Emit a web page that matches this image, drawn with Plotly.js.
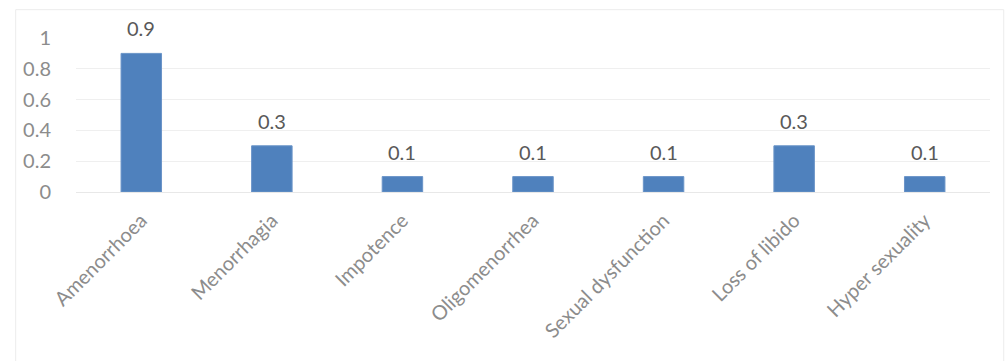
<!DOCTYPE html>
<html>
<head>
<meta charset="utf-8">
<script src="https://cdn.plot.ly/plotly-3.0.1.min.js"></script>
<style>
  html, body { margin: 0; padding: 0; background: #fff; }
  #chart { width: 1005px; height: 361px; }
</style>
</head>
<body>
<div id="chart"></div>
<script>
// Reported symptoms and their values
const symptoms = ["Amenorrhoea", "Menorrhagia", "Impotence", "Oligomenorrhea",
                  "Sexual dysfunction", "Loss of libido", "Hyper sexuality"];
const values = [0.9, 0.3, 0.1, 0.1, 0.1, 0.3, 0.1];
const yTicks = [0, 0.2, 0.4, 0.6, 0.8, 1];
const yTickText = ["0", "0.2", "0.4", "0.6", "0.8", "1"];

const fontFamily = "Lato, Open Sans, sans-serif";

const bars = {
  type: "bar",
  x: symptoms,
  y: values,
  marker: { color: "#4f81bd", line: { color: "#6a94c8", width: 1 } },
  hoverinfo: "x+y"
};

// value labels sit above each bar
const valueLabels = symptoms.map((s, i) => ({
  x: s,
  y: values[i],
  text: String(values[i]),
  showarrow: false,
  xanchor: "center",
  yanchor: "bottom",
  yshift: 11,
  font: { family: fontFamily, size: 20, color: "#595959" }
}));

const layout = {
  width: 1005,
  height: 361,
  margin: { l: 76, r: 15, t: 38, b: 169 },
  paper_bgcolor: "#ffffff",
  plot_bgcolor: "#ffffff",
  showlegend: false,
  bargap: 0.69,
  font: { family: fontFamily, color: "#8c8c8c" },
  xaxis: {
    type: "category",
    tickangle: -45,
    tickfont: { family: fontFamily, size: 20, color: "#8c8c8c" },
    showgrid: false,
    showline: false,
    ticks: "outside",
    ticklen: 8,
    tickcolor: "rgba(0,0,0,0)",
    fixedrange: true
  },
  yaxis: {
    range: [0, 1],
    tickvals: yTicks,
    ticktext: yTickText,
    tickfont: { family: fontFamily, size: 20, color: "#8c8c8c" },
    showgrid: true,
    gridcolor: "#efefef",
    gridwidth: 1,
    zeroline: true,
    zerolinecolor: "#e8e8e8",
    zerolinewidth: 1,
    showline: false,
    ticks: "outside",
    ticklen: 20,
    tickcolor: "rgba(0,0,0,0)",
    fixedrange: true
  },
  annotations: valueLabels,
  shapes: [{
    type: "rect",
    xref: "paper", yref: "paper",
    x0: -0.066, x1: 1.015, y0: -1.3, y1: 1.184,
    line: { color: "#ececec", width: 1 },
    fillcolor: "rgba(0,0,0,0)",
    layer: "below"
  }]
};

Plotly.newPlot("chart", [bars], layout, { displayModeBar: false, staticPlot: true });
</script>
</body>
</html>
